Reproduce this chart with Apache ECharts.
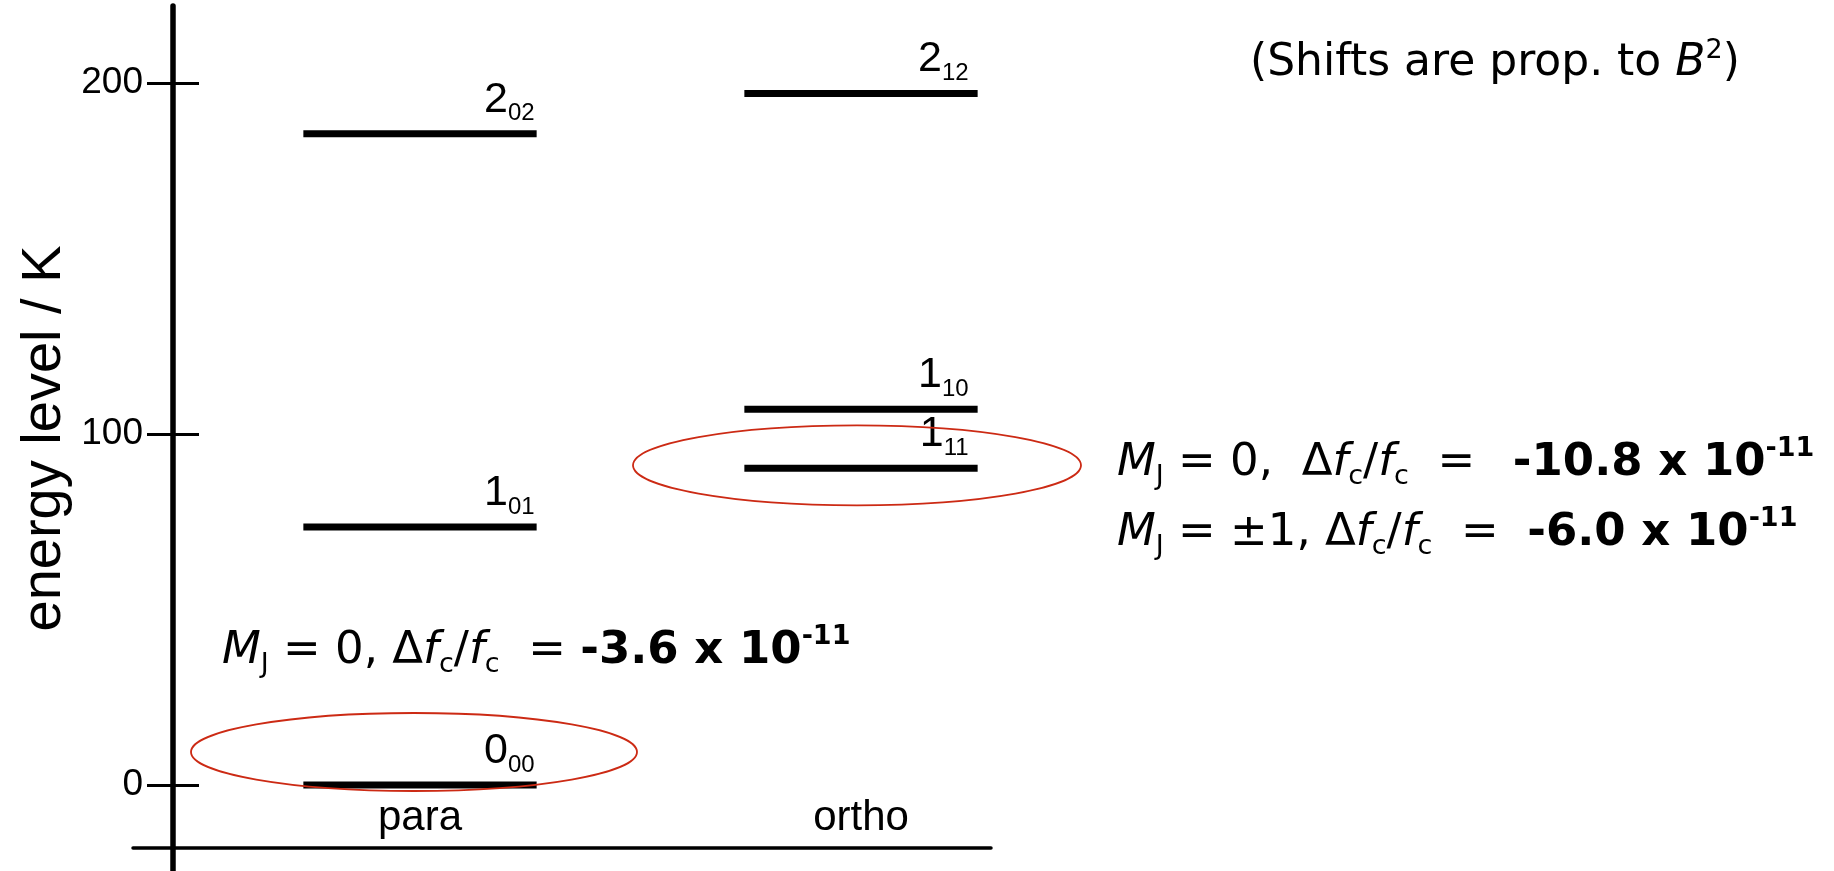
<!DOCTYPE html>
<html>
<head>
<meta charset="utf-8">
<script src="https://cdn.jsdelivr.net/npm/echarts@6/dist/echarts.min.js"></script>
<style>
html,body{margin:0;padding:0;background:#fff;}
#c{width:1834px;height:871px;}
</style>
</head>
<body>
<div id="c"></div>
<script>
// ---- data ----
const columns = ['para', 'ortho'];
const levelColumn = [0, 0, 0, 1, 1, 1];
const levelEnergy = [0, 73.5, 185.5, 90.2, 107.0, 197.0];
const levelMain = ['0', '1', '2', '1', '1', '2'];
const levelSub = ['00', '01', '02', '11', '10', '12'];
const yTicks = [0, 100, 200];
const circledLevels = [0, 3];
const yAxisTitle = 'energy level / K';

// ---- styling constants ----
const HALF = 0.2645;
const labelInset = [2, 9];
const ellipseStyle = [
  { dx: -6, dy: -33, rx: 223, ry: 39 },
  { dx: -4, dy: -3, rx: 224, ry: 40 }
];
const helv = '"Liberation Sans", Arial, Helvetica, sans-serif';
const verd = '"DejaVu Sans", Verdana, sans-serif';

const chart = echarts.init(document.getElementById('c'));

const levelRich = {
  m: { fontFamily: helv, fontSize: 43, lineHeight: 52, color: '#000' },
  s: { fontFamily: helv, fontSize: 24, lineHeight: 32, verticalAlign: 'bottom', color: '#000' }
};
function makeRich(F, S) {
  const lh = Math.round(F * 1.22);
  return {
    it: { fontFamily: verd, fontSize: F, fontStyle: 'italic', lineHeight: lh, color: '#000' },
    n: { fontFamily: verd, fontSize: F, lineHeight: lh, color: '#000' },
    b: { fontFamily: verd, fontSize: F, fontWeight: 'bold', lineHeight: lh, color: '#000' },
    sub: { fontFamily: verd, fontSize: S, lineHeight: S, verticalAlign: 'bottom', color: '#000' },
    sup: { fontFamily: verd, fontSize: S, fontWeight: 'bold', lineHeight: S, verticalAlign: 'top', color: '#000' },
    supn: { fontFamily: verd, fontSize: S, lineHeight: S, verticalAlign: 'top', color: '#000' }
  };
}
const richFormula = makeRich(45, 27);
const richNote = makeRich(44, 27);

function annText(x, y, text, rich, F) {
  return {
    type: 'text', x: x, y: y, z: 10,
    style: { text: text, rich: rich, fontFamily: verd, fontSize: F, fill: '#000', align: 'left', verticalAlign: 'middle' }
  };
}

const X1MIN = 1 - (420 - 133) / 441;
const X0MIN = 1 - (420 - 173) / 441;
const XMAX = 1 + (991 - 420) / 441;
const YMIN = -24.5, YMAX = 221.9;

const option = {
  animation: false,
  backgroundColor: '#fff',
  grid: [
    { left: 173, right: 843, top: 6, bottom: 0 },
    { left: 133, right: 843, top: 6, bottom: 23 }
  ],
  xAxis: [
    { gridIndex: 0, type: 'value', min: X0MIN, max: XMAX, show: false },
    {
      gridIndex: 1, type: 'value', min: X1MIN, max: XMAX,
      axisLine: { show: true, onZero: false, lineStyle: { color: '#000', width: 3.5 } },
      axisTick: { show: false },
      splitLine: { show: false },
      axisLabel: {
        inside: true, customValues: [1, 2],
        formatter: function (v) { return columns[Math.round(v) - 1]; },
        fontFamily: helv, fontSize: 42, color: '#000', margin: 9
      }
    }
  ],
  yAxis: [
    {
      gridIndex: 0, type: 'value', position: 'left', min: YMIN, max: YMAX,
      axisLine: { show: true, lineStyle: { color: '#000', width: 5.5 } },
      axisTick: { show: true, length: 26, customValues: yTicks, lineStyle: { color: '#000', width: 3 } },
      axisLabel: { customValues: yTicks, fontFamily: helv, fontSize: 37, color: '#000', margin: 30 },
      splitLine: { show: false },
      name: yAxisTitle, nameLocation: 'middle', nameGap: 100,
      nameTextStyle: { fontFamily: helv, fontSize: 56, color: '#000' }
    },
    {
      gridIndex: 0, type: 'value', position: 'left', min: YMIN, max: YMAX,
      axisLine: { show: false },
      axisTick: { show: true, inside: true, length: 26, customValues: yTicks, lineStyle: { color: '#000', width: 3 } },
      axisLabel: { show: false },
      splitLine: { show: false }
    },
    { gridIndex: 1, type: 'value', min: YMIN, max: YMAX, show: false }
  ],
  series: [
    {
      type: 'custom', name: 'levels', xAxisIndex: 0, yAxisIndex: 0,
      data: levelEnergy.map(function (e, i) { return [levelColumn[i] + 1, e, i]; }),
      encode: { x: 0, y: 1 },
      renderItem: function (params, api) {
        const x = api.value(0), y = api.value(1), i = api.value(2);
        const p0 = api.coord([x - HALF, y]);
        const p1 = api.coord([x + HALF, y]);
        return {
          type: 'group',
          children: [
            { type: 'line', shape: { x1: p0[0], y1: p0[1], x2: p1[0], y2: p1[1] }, style: { stroke: '#000', lineWidth: 7 } },
            {
              type: 'text', x: p1[0] - labelInset[levelColumn[i]], y: p0[1] - 8,
              style: { text: '{m|' + levelMain[i] + '}{s|' + levelSub[i] + '}', rich: levelRich, align: 'right', verticalAlign: 'bottom', fill: '#000' }
            }
          ]
        };
      }
    },
    {
      type: 'custom', name: 'circles', xAxisIndex: 0, yAxisIndex: 0, z: 5,
      data: circledLevels.map(function (li, k) { return [levelColumn[li] + 1, levelEnergy[li], k]; }),
      encode: { x: 0, y: 1 },
      renderItem: function (params, api) {
        const k = api.value(2);
        const c = api.coord([api.value(0), api.value(1)]);
        const s = ellipseStyle[k];
        return {
          type: 'ellipse',
          shape: { cx: c[0] + s.dx, cy: c[1] + s.dy, rx: s.rx, ry: s.ry },
          style: { fill: 'none', stroke: '#cc2a14', lineWidth: 1.8 }
        };
      }
    }
  ],
  graphic: [
    annText(1250, 64, '(Shifts are prop. to {it|B}{supn|2})', richNote, 44),
    annText(1117, 463, '{it|M}{sub|J}{n| = 0,  Δ}{it|f}{sub|c}{n|/}{it|f}{sub|c}{n|  =  \u2009}{b|-10.8 x 10}{sup|-11}', richFormula, 45),
    annText(1117, 533, '{it|M}{sub|J}{n| = ±1, Δ}{it|f}{sub|c}{n|/}{it|f}{sub|c}{n|  =  }{b|-6.0 x 10}{sup|-11}', richFormula, 45),
    annText(222, 651, '{it|M}{sub|J}{n| = 0, Δ}{it|f}{sub|c}{n|/}{it|f}{sub|c}{n|  = }{b|-3.6 x 10}{sup|-11}', richFormula, 45)
  ]
};
chart.setOption(option);
</script>
</body>
</html>
